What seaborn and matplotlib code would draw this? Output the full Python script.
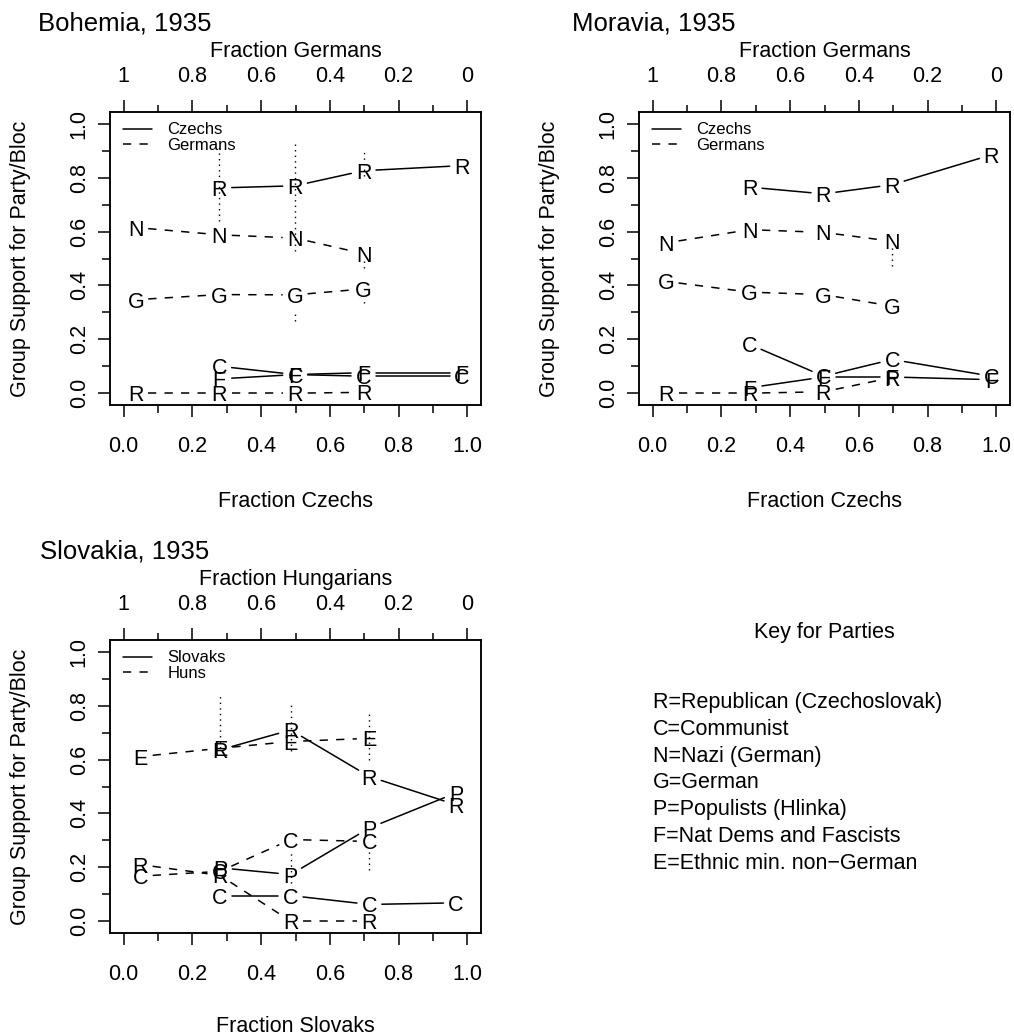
import numpy as np
import pandas as pd
import matplotlib
matplotlib.use("Agg")
import matplotlib.pyplot as plt
from matplotlib.lines import Line2D
import seaborn as sns

# ---- datos ----
# Bohemia
boh_x_czechs = [0.278, 0.499, 0.698, 0.985]
boh_x_germans = [0.035, 0.278, 0.499, 0.698]
boh_czechs = {"R": [0.762, 0.770, 0.826, 0.845],
              "C": [0.100, 0.069, 0.063, 0.063],
              "F": [0.053, 0.069, 0.076, 0.076]}
boh_germans = {"N": [0.615, 0.588, 0.576, 0.518],
               "G": [0.347, 0.366, 0.365, 0.387],
               "R": [0.000, 0.000, 0.000, 0.003]}
boh_bound_x = [0.278, 0.499, 0.499, 0.698, 0.698, 0.698]
boh_bound_lo = [0.640, 0.527, 0.267, 0.805, 0.466, 0.336]
boh_bound_hi = [0.930, 0.928, 0.310, 0.904, 0.495, 0.347]

# Moravia
mor_x_czechs = [0.282, 0.497, 0.697, 0.986]
mor_x_germans = [0.039, 0.282, 0.497, 0.697]
mor_czechs = {"R": [0.765, 0.740, 0.774, 0.885],
              "C": [0.181, 0.063, 0.125, 0.063],
              "F": [0.020, 0.060, 0.060, 0.050]}
mor_germans = {"N": [0.558, 0.607, 0.597, 0.564],
               "G": [0.415, 0.375, 0.366, 0.323],
               "R": [0.000, 0.000, 0.005, 0.058]}
mor_bound_x = [0.697]
mor_bound_lo = [0.471]
mor_bound_hi = [0.545]

# Eslovaquia
slo_x_slovaks = [0.280, 0.486, 0.715, 0.967]
slo_x_huns = [0.048, 0.280, 0.486, 0.715]
slo_slovaks = {"R": [0.636, 0.710, 0.537, 0.432],
               "P": [0.198, 0.173, 0.346, 0.476],
               "C": [0.095, 0.095, 0.062, 0.068]}
slo_huns = {"E": [0.611, 0.642, 0.667, 0.679],
            "C": [0.167, 0.185, 0.303, 0.296],
            "R": [0.210, 0.170, 0.000, 0.000]}
slo_bound_x = [0.280, 0.486, 0.486, 0.715, 0.715]
slo_bound_lo = [0.642, 0.630, 0.142, 0.599, 0.191]
slo_bound_hi = [0.846, 0.809, 0.253, 0.778, 0.266]

top_tick_labels = ["1", "0.8", "0.6", "0.4", "0.2", "0"]
bottom_tick_labels = ["0.0", "0.2", "0.4", "0.6", "0.8", "1.0"]

key_title = "Key for Parties"
key_lines = ["R=Republican (Czechoslovak)", "C=Communist", "N=Nazi (German)",
             "G=German", "P=Populists (Hlinka)", "F=Nat Dems and Fascists",
             "E=Ethnic min. non\u2212German"]

# ---- estilo ----
sns.set_theme(style="ticks")
plt.rcParams["font.family"] = ["Liberation Sans", "DejaVu Sans"]
plt.rcParams["text.color"] = "black"
plt.rcParams["axes.labelcolor"] = "black"
plt.rcParams["xtick.color"] = "black"
plt.rcParams["ytick.color"] = "black"
plt.rcParams["axes.edgecolor"] = "black"
FS = 15.5
LW = 1.1
GAP = 12.5  # px de hueco alrededor de cada letra

W, H = 1014, 1035
fig = plt.figure(figsize=(W / 100, H / 100), dpi=100)
fig.patch.set_facecolor("white")


def px_axes(left, top, right, bottom):
    return fig.add_axes([left / W, 1 - bottom / H, (right - left) / W, (bottom - top) / H])


def panel(ax, top_label, bottom_label, names, xa, ga, xb, gb, bx, blo, bhi, bottom_off=94):
    ax.set_xlim(-0.04, 1.04)
    ax.set_ylim(-0.044, 1.044)

    # segmentos recortados alrededor de las letras (como type="b" de R)
    rows = []
    seg = 0
    inv = ax.transData.inverted()
    for name, xs, grp in [(names[0], xa, ga), (names[1], xb, gb)]:
        for party, ys in grp.items():
            for i in range(len(xs) - 1):
                p0 = ax.transData.transform((xs[i], ys[i]))
                p1 = ax.transData.transform((xs[i + 1], ys[i + 1]))
                d = p1 - p0
                L = np.hypot(*d)
                if L <= 2 * GAP:
                    continue
                u = d / L
                q0 = inv.transform(p0 + u * GAP)
                q1 = inv.transform(p1 - u * GAP)
                rows.append({"x": q0[0], "y": q0[1], "seg": seg, "grupo": name})
                rows.append({"x": q1[0], "y": q1[1], "seg": seg, "grupo": name})
                seg += 1
    df = pd.DataFrame(rows)
    sns.lineplot(data=df, x="x", y="y", units="seg", estimator=None, sort=False,
                 style="grupo", style_order=names,
                 dashes={names[0]: "", names[1]: (5.4, 5.4)},
                 color="black", linewidth=LW, legend=False, ax=ax)

    # intervalos punteados
    ax.vlines(bx, blo, bhi, colors="black", linestyles=(0, (1, 3)), linewidth=1.0)

    # letras
    for xs, grp in [(xa, ga), (xb, gb)]:
        for party, ys in grp.items():
            for x, y in zip(xs, ys):
                ax.text(x, y, party, ha="center", va="center_baseline", fontsize=FS,
                        color="black")

    # ejes
    for sp in ax.spines.values():
        sp.set_visible(True)
        sp.set_linewidth(LW)
        sp.set_color("black")
    ax.set_xlabel("")
    ax.set_ylabel("")
    ax.set_xticks(np.linspace(0, 1, 6))
    ax.set_xticklabels(bottom_tick_labels)
    ax.set_xticks(np.linspace(0.1, 0.9, 5), minor=True)
    ax.set_yticks(np.linspace(0, 1, 6))
    ax.set_yticklabels(bottom_tick_labels, rotation=90, va="center")
    ax.set_yticks(np.linspace(0.1, 0.9, 5), minor=True)
    ax.tick_params(axis="x", which="major", length=8.6, width=LW, pad=14, labelsize=FS,
                   colors="black", labelcolor="black")
    ax.tick_params(axis="x", which="minor", length=6.0, width=LW, colors="black")
    ax.tick_params(axis="y", which="major", length=8.6, width=LW, pad=6, labelsize=FS,
                   colors="black", labelcolor="black")
    ax.tick_params(axis="y", which="minor", length=6.0, width=LW, colors="black")

    top = ax.twiny()
    top.set_xlim(ax.get_xlim())
    top.set_xticks(np.linspace(0, 1, 6))
    top.set_xticklabels(top_tick_labels)
    top.set_xticks(np.linspace(0.1, 0.9, 5), minor=True)
    top.tick_params(axis="x", which="major", length=8.6, width=LW, pad=9.5, labelsize=FS,
                    colors="black", labelcolor="black")
    top.tick_params(axis="x", which="minor", length=5.0, width=LW, colors="black")
    for sp in top.spines.values():
        sp.set_linewidth(LW)
        sp.set_color("black")

    ax.text(0.5, 1 + 63 / 293, top_label, transform=ax.transAxes, ha="center",
            va="center_baseline", fontsize=FS, color="black")
    ax.text(0.5, -bottom_off / 293, bottom_label, transform=ax.transAxes, ha="center",
            va="center_baseline", fontsize=FS, color="black")
    ax.text(-89 / 371, 0.5, "Group Support for Party/Bloc", transform=ax.transAxes,
            ha="center", va="center", rotation=90, fontsize=FS, color="black")

    leg_handles = [Line2D([], [], color="black", lw=LW),
                   Line2D([], [], color="black", lw=LW, dashes=(5.4, 5.4))]
    leg = ax.legend(leg_handles, names, loc="upper left", bbox_to_anchor=(0.035, 0.9645),
                    frameon=False, fontsize=12, handlelength=1.75, handletextpad=0.9,
                    borderpad=0, borderaxespad=0, labelspacing=0.05)
    for t in leg.get_texts():
        t.set_color("black")


ax1 = px_axes(110, 112, 481, 405)
panel(ax1, "Fraction Germans", "Fraction Czechs", ["Czechs", "Germans"],
      boh_x_czechs, boh_czechs, boh_x_germans, boh_germans,
      boh_bound_x, boh_bound_lo, boh_bound_hi)

ax2 = px_axes(639, 112, 1010, 405)
panel(ax2, "Fraction Germans", "Fraction Czechs", ["Czechs", "Germans"],
      mor_x_czechs, mor_czechs, mor_x_germans, mor_germans,
      mor_bound_x, mor_bound_lo, mor_bound_hi)

ax3 = px_axes(110, 640, 481, 933)
panel(ax3, "Fraction Hungarians", "Fraction Slovaks", ["Slovaks", "Huns"],
      slo_x_slovaks, slo_slovaks, slo_x_huns, slo_huns,
      slo_bound_x, slo_bound_lo, slo_bound_hi, bottom_off=91)

# titulos de los paneles
fig.text(38 / W, 1 - 31 / H, "Bohemia, 1935", ha="left", va="baseline", fontsize=18.5)
fig.text(572 / W, 1 - 31 / H, "Moravia, 1935", ha="left", va="baseline", fontsize=18.5)
fig.text(40 / W, 1 - 558 / H, "Slovakia, 1935", ha="left", va="baseline", fontsize=18.5)

# clave de partidos
fig.text(824 / W, 1 - 630 / H, key_title, ha="center", va="center_baseline", fontsize=FS)
for i, line in enumerate(key_lines):
    fig.text(653 / W, 1 - (700 + 26.8 * i) / H, line, ha="left", va="center_baseline",
             fontsize=FS)

fig.savefig("out.png", dpi=100, facecolor="white")
